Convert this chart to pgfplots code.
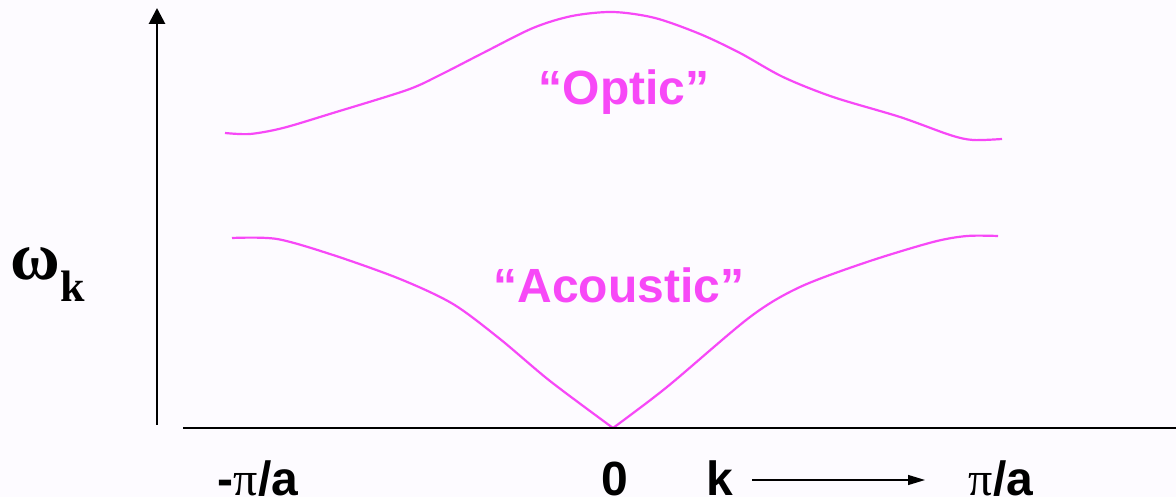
\documentclass[border=0pt]{standalone}
\usepackage{pgfplots}
\pgfplotsset{compat=1.18}
\usepackage{fontspec}
\setmainfont{Liberation Sans}
\newfontfamily\serifb{Liberation Serif}
\usetikzlibrary{arrows.meta}
\definecolor{mag}{RGB}{247,72,247}
\definecolor{bg}{RGB}{253,251,255}
\begin{document}
\begin{tikzpicture}
\begin{axis}[name=ax, scale only axis, width=588pt, height=248.5pt,
  xmin=0, xmax=1176, ymin=0, ymax=497, hide axis, clip=false]
\fill[bg] (axis cs:0,0) rectangle (axis cs:1176,497);
% optic branch
\addplot[mag, line width=1.1pt, smooth] coordinates {
(225,364) (250,363) (283,369) (333,384) (407,407) (440,422) (483,444)
(533,469) (572,481) (613,485) (655,479) (700,463) (740,444) (783,420)
(833,400) (900,380) (950,362) (973,357) (1002,358)};
% acoustic branch
\addplot[mag, line width=1.1pt, smooth] coordinates {
(232,259) (277,258) (333,242) (400,218) (453,193) (500,158) (550,116) (613,69)};
\addplot[mag, line width=1.1pt, smooth] coordinates {
(613,69) (667,110) (750,180) (800,210) (867,235) (933,255) (967,261) (998,261)};
% axes
\addplot[black, line width=1.4pt] coordinates {(183,69) (1176,69)};
\addplot[black, line width=1.4pt, -{Triangle[length=8pt,width=8pt]}] coordinates {(157,72) (157,489)};
\addplot[black, line width=0.6pt, -{Triangle[length=8.5pt,width=5pt]}] coordinates {(752,17) (925,17)};
% labels
\node[mag, anchor=base, font=\fontsize{24}{28}\selectfont\bfseries] at (axis cs:624,392) {“Optic”};
\node[mag, anchor=base, font=\fontsize{24}{28}\selectfont\bfseries] at (axis cs:619,194) {“Acoustic”};
\node[anchor=base, font=\fontsize{24}{28}\selectfont\bfseries] at (axis cs:258,2) {-{\serifb\mdseries π}/a};
\node[anchor=base, font=\fontsize{24}{28}\selectfont\bfseries] at (axis cs:615,2) {0};
\node[anchor=base, font=\fontsize{24}{28}\selectfont\bfseries] at (axis cs:720,2) {k};
\node[anchor=base, font=\fontsize{24}{28}\selectfont\bfseries] at (axis cs:1001,2) {{\serifb\mdseries π}/a};
\node[anchor=base west, inner sep=0pt, font=\fontsize{34}{36}\selectfont\serifb\bfseries] at (axis cs:10,217) {ω\raisebox{-11pt}{\fontsize{22}{24}\selectfont k}};
\end{axis}
\pgfresetboundingbox
\path[use as bounding box] (ax.south west) rectangle (ax.north east);
\end{tikzpicture}
\end{document}
